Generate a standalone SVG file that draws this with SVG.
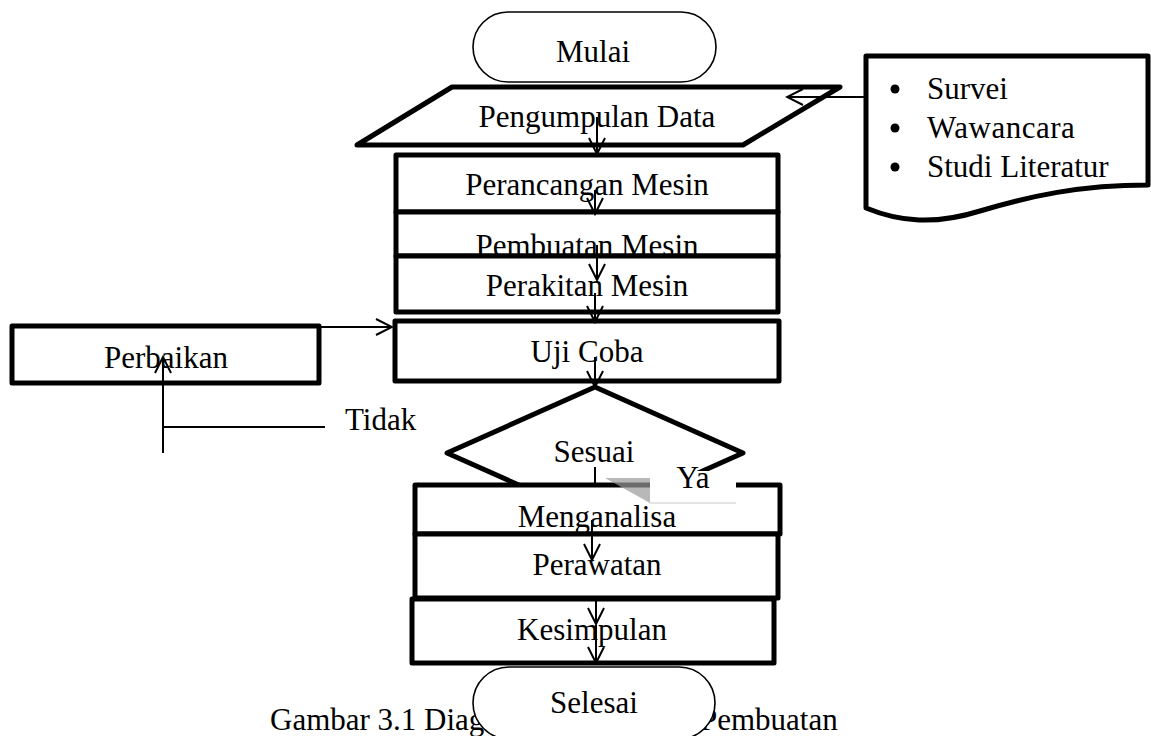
<svg xmlns="http://www.w3.org/2000/svg" width="1151" height="736" viewBox="0 0 1151 736">
<style>
text{font-family:"Liberation Serif","Times New Roman",serif;font-size:31px;fill:#000}
.c{text-anchor:middle}
.box{fill:#fff;stroke:#000;stroke-width:5;stroke-linejoin:round}
.term{fill:#fff;stroke:#000;stroke-width:1.6}
.ln{fill:none;stroke:#000;stroke-width:2}
</style>
<defs>
<marker id="ah" viewBox="0 0 20 20" refX="18" refY="10" markerWidth="20" markerHeight="20" markerUnits="userSpaceOnUse" orient="auto">
<path d="M2,2 L18,10 L2,18" fill="none" stroke="#000" stroke-width="2"/>
</marker>
</defs>
<rect width="1151" height="736" fill="#fff"/>
<text x="270" y="730">Gambar 3.1 Diag</text>
<text x="700" y="730">Pembuatan</text>
<g id="mulai"><rect class="term" x="473" y="12" width="243" height="70" rx="35"/><text class="c" x="593" y="62">Mulai</text></g>
<g id="pengumpulan"><polygon class="box" points="452,87 840,87 743,145 357,145"/><text class="c" x="597" y="127">Pengumpulan Data</text></g>
<g id="dokumen"><path class="box" stroke-width="4" d="M866,56 H1148 V185 C1080,185 1030,196 980,211 C935,225 900,222 866,208 Z"/>
<circle cx="895" cy="89" r="4.5"/><circle cx="895" cy="128" r="4.5"/><circle cx="895" cy="167" r="4.5"/>
<text x="927" y="99">Survei</text><text x="927" y="138" letter-spacing="0.5">Wawancara</text><text x="927" y="177">Studi Literatur</text></g>
<g id="perancangan"><rect class="box" x="396" y="155" width="382" height="57"/><text class="c" x="587" y="195">Perancangan Mesin</text></g>
<g id="pembuatan"><rect class="box" x="396" y="212" width="382" height="44"/><text class="c" x="587" y="256">Pembuatan Mesin</text></g>
<g id="perakitan"><rect class="box" x="396" y="256" width="382" height="56"/><text class="c" x="587" y="296">Perakitan Mesin</text></g>
<g id="ujicoba"><rect class="box" x="395" y="321" width="384" height="60"/><text class="c" x="587" y="362">Uji Coba</text></g>
<g id="perbaikan"><rect class="box" x="12" y="326" width="307" height="57"/><text class="c" x="166" y="368">Perbaikan</text></g>
<g id="sesuai"><polygon class="box" points="595,387 743,453 595,519 447,453" stroke-linejoin="miter"/><text class="c" x="594" y="462">Sesuai</text></g>
<g id="menganalisa"><rect class="box" x="415" y="485" width="365" height="49"/><text class="c" x="597" y="527">Menganalisa</text></g>
<g id="perawatan"><rect class="box" x="415" y="534" width="363" height="64"/><text class="c" x="597" y="575">Perawatan</text></g>
<g id="kesimpulan"><rect class="box" x="412" y="599" width="362" height="64"/><text class="c" x="592" y="640">Kesimpulan</text></g>
<g id="selesai"><rect class="term" x="473" y="667" width="242" height="72" rx="36"/><text class="c" x="594" y="713">Selesai</text></g>
<g id="connectors">
<line class="ln" x1="866" y1="97" x2="787" y2="97" marker-end="url(#ah)"/>
<line class="ln" x1="597" y1="117" x2="597" y2="154" marker-end="url(#ah)"/>
<line class="ln" x1="595" y1="190" x2="595" y2="214" marker-end="url(#ah)"/>
<line class="ln" x1="597" y1="245" x2="597" y2="280" marker-end="url(#ah)"/>
<line class="ln" x1="595" y1="293" x2="595" y2="322" marker-end="url(#ah)"/>
<line class="ln" x1="595" y1="357" x2="595" y2="387" marker-end="url(#ah)"/>
<line class="ln" x1="319" y1="327" x2="392" y2="327" marker-end="url(#ah)"/>
<line class="ln" x1="163" y1="453" x2="163" y2="357" marker-end="url(#ah)"/>
<line class="ln" x1="163" y1="427" x2="325" y2="427"/>
<line class="ln" x1="595" y1="467" x2="595" y2="485"/>
<line class="ln" x1="592" y1="520" x2="592" y2="560" marker-end="url(#ah)"/>
<line class="ln" x1="596" y1="598" x2="596" y2="624" marker-end="url(#ah)"/>
<line class="ln" x1="596" y1="625" x2="596" y2="663" marker-end="url(#ah)"/>
</g>
<g id="ya">
<polygon points="605,478 650,478 650,503" fill="#9a9a9a" fill-opacity="0.7"/>
<rect x="650" y="471" width="86" height="32" fill="#fff"/>
<line x1="650" y1="503" x2="736" y2="503" stroke="#c8c8c8" stroke-width="1"/>
<text class="c" x="693" y="488">Ya</text>
</g>
<text x="345" y="430">Tidak</text>
</svg>
